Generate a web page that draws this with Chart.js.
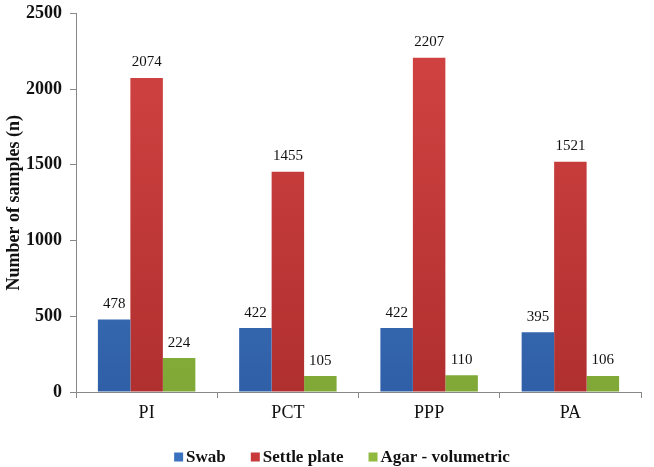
<!DOCTYPE html>
<html>
<head>
<meta charset="utf-8">
<script src="https://cdn.jsdelivr.net/npm/chart.js@4/dist/chart.umd.min.js"></script>
<style>
  html, body { margin: 0; padding: 0; background: #fff; }
  #wrap { width: 654px; height: 467px; }
</style>
</head>
<body>
<div id="wrap"><canvas id="c" width="654" height="467"></canvas></div>
<script>
const categories = ['PI', 'PCT', 'PPP', 'PA'];
const swab = [478, 422, 422, 395];
const settlePlate = [2074, 1455, 2207, 1521];
const agarVolumetric = [224, 105, 110, 106];
const seriesNames = ['Swab', 'Settle plate', 'Agar - volumetric'];
const seriesColors = ['#3b72c0', '#c83a3a', '#8fba3f'];

const serif = "'Liberation Serif', 'Times New Roman', serif";

function grad(top, bottom) {
  return (ctx) => {
    const area = ctx.chart.chartArea;
    if (!area) return bottom;
    const g = ctx.chart.ctx.createLinearGradient(0, area.top, 0, area.bottom);
    g.addColorStop(0, top);
    g.addColorStop(1, bottom);
    return g;
  };
}

// numbers above each bar
const barLabels = {
  id: 'barLabels',
  afterDatasetsDraw(chart) {
    const c = chart.ctx;
    c.save();
    c.font = '15px ' + serif;
    c.fillStyle = '#111';
    c.textAlign = 'center';
    c.textBaseline = 'bottom';
    chart.data.datasets.forEach((ds, i) => {
      chart.getDatasetMeta(i).data.forEach((bar, j) => {
        c.fillText(ds.data[j], bar.x, bar.y - 8);
      });
    });
    c.restore();
  }
};

// legend row under the axis, like the Excel one
const bottomLegend = {
  id: 'bottomLegend',
  afterDraw(chart) {
    const c = chart.ctx;
    c.save();
    c.font = 'bold 17px ' + serif;
    c.textBaseline = 'middle';
    const box = 9, gap = 3, spacing = 25;
    const widths = seriesNames.map((n) => box + gap + c.measureText(n).width);
    const total = widths.reduce((a, b) => a + b, 0) + spacing * (seriesNames.length - 1);
    let x = 342 - total / 2;
    const y = 457;
    seriesNames.forEach((name, i) => {
      c.fillStyle = seriesColors[i];
      c.fillRect(x, y - box / 2, box, box);
      c.fillStyle = '#111';
      c.fillText(name, x + box + gap, y + 1);
      x += widths[i] + spacing;
    });
    c.restore();
  }
};

new Chart(document.getElementById('c'), {
  type: 'bar',
  data: {
    labels: categories,
    datasets: [
      { label: seriesNames[0], data: swab, backgroundColor: grad('#4a86d4', '#2f5fa6') },
      { label: seriesNames[1], data: settlePlate, backgroundColor: grad('#d44444', '#b0302f') },
      { label: seriesNames[2], data: agarVolumetric, backgroundColor: grad('#9cc84a', '#7fa836') }
    ]
  },
  plugins: [barLabels, bottomLegend],
  options: {
    responsive: false,
    animation: false,
    layout: { padding: { top: -3, right: 13, left: 2, bottom: 48 } },
    categoryPercentage: 0.69,
    barPercentage: 1,
    plugins: {
      tooltip: { enabled: false },
      legend: { display: false }
    },
    scales: {
      x: {
        grid: { drawOnChartArea: false, drawTicks: true, tickLength: 6, color: '#888', offset: true },
        border: { color: '#888' },
        ticks: { font: { family: serif, size: 18 }, color: '#111', padding: 4 },
        afterFit(scale) { scale.height = 27; }
      },
      y: {
        min: 0,
        max: 2500,
        ticks: {
          stepSize: 500,
          callback: (v) => String(v),
          font: { family: serif, size: 18, weight: 'bold', lineHeight: 0.6 },
          color: '#111',
          padding: 8
        },
        grid: { drawOnChartArea: false, drawTicks: true, tickLength: 6, color: '#888' },
        border: { color: '#888' },
        title: { display: true, text: 'Number of samples (n)', font: { family: serif, size: 18, weight: 'bold' }, color: '#111', padding: 2 },
        afterFit(scale) { scale.width = 74; }
      }
    }
  }
});
</script>
</body>
</html>
